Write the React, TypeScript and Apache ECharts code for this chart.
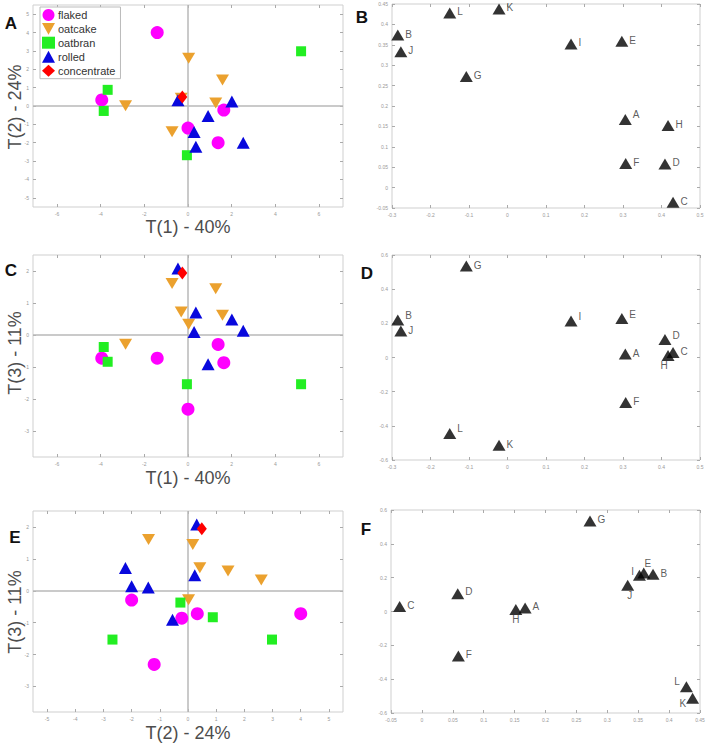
import React, { useEffect, useRef } from "react";
import * as echarts from "echarts";

// ---------- scores (T1, T2, T3) per group ----------
const flakedT1 = [-1.41, -3.95, 0.0, 1.64, 1.38];
const flakedT2 = [4.0, 0.33, -1.2, -0.22, -2.0];
const flakedT3 = [-0.72, -0.72, -2.31, -0.86, -0.29];

const oatcakeT1 = [0.03, 1.58, 1.27, -2.86, -0.73, -0.31];
const oatcakeT2 = [2.6, 1.42, 0.17, 0.02, -1.4, 0.42];
const oatcakeT3 = [0.34, 0.62, 1.45, -0.28, 1.61, 0.72];

const oatbranT1 = [5.18, -3.68, -3.86, -0.05];
const oatbranT2 = [2.98, 0.88, -0.27, -2.68];
const oatbranT3 = [-1.53, -0.83, -0.37, -1.53];

const rolledT1 = [-0.46, 2.01, 0.92, 0.28, 0.36, 2.53];
const rolledT2 = [0.31, 0.24, -0.55, -1.41, -2.22, -2.0];
const rolledT3 = [2.08, 0.49, -0.91, 0.1, 0.71, 0.14];

const concentrateT1 = [-0.26];
const concentrateT2 = [0.49];
const concentrateT3 = [1.94];

// ---------- loadings ----------
const loadingLabels = ["A", "B", "C", "D", "E", "F", "G", "H", "I", "J", "K", "L"];
const loadingP1 = [0.306, -0.285, 0.43, 0.409, 0.297, 0.307, -0.107, 0.417, 0.165, -0.277, -0.022, -0.15];
const loadingP2 = [0.167, 0.374, -0.036, 0.058, 0.359, 0.059, 0.272, 0.152, 0.352, 0.333, 0.438, 0.428];
const loadingP3 = [0.02, 0.22, 0.03, 0.105, 0.228, -0.263, 0.535, 0.012, 0.214, 0.155, -0.513, -0.445];

// ---------- tick values ----------
const ticksT1 = [-6, -4, -2, 0, 2, 4, 6];
const ticksT2 = [-5, -4, -3, -2, -1, 0, 1, 2, 3, 4, 5];
const ticksT3 = [-3, -2, -1, 0, 1, 2];
const ticksP1 = [-0.3, -0.2, -0.1, 0, 0.1, 0.2, 0.3, 0.4, 0.5];
const ticksP2x = [-0.05, 0, 0.05, 0.1, 0.15, 0.2, 0.25, 0.3, 0.35, 0.4, 0.45];
const ticksP2y = [-0.05, 0, 0.05, 0.1, 0.15, 0.2, 0.25, 0.3, 0.35, 0.4, 0.45];
const ticksP3 = [-0.6, -0.4, -0.2, 0, 0.2, 0.4, 0.6];

const FONT = "'Liberation Sans', Arial, sans-serif";

const groupStyles: any = {
  flaked: { symbol: "circle", symbolSize: 13, color: "#FF00FF" },
  oatcake: { symbol: "path://M0,0 L10,0 L5,9 Z", symbolSize: [13, 11], color: "#EBA12E" },
  oatbran: { symbol: "rect", symbolSize: 10, color: "#22EE22" },
  rolled: { symbol: "triangle", symbolSize: [13, 12], color: "#0808DD" },
  concentrate: { symbol: "diamond", symbolSize: [10, 13], color: "#FF0000" },
};

const groupData: any = {
  flaked: [flakedT1, flakedT2, flakedT3],
  oatcake: [oatcakeT1, oatcakeT2, oatcakeT3],
  oatbran: [oatbranT1, oatbranT2, oatbranT3],
  rolled: [rolledT1, rolledT2, rolledT3],
  concentrate: [concentrateT1, concentrateT2, concentrateT3],
};
const groupNames = ["flaked", "oatcake", "oatbran", "rolled", "concentrate"];

const loadingArrays = [loadingP1, loadingP2, loadingP3];

export default function App() {
  const ref = useRef<HTMLDivElement>(null);
  useEffect(() => {
    if (!ref.current) return;
    const chart = echarts.init(ref.current, undefined, { renderer: "svg" });

    const grids = [
      { left: 33, top: 5, width: 310, height: 202 }, // A
      { left: 392, top: 4, width: 308, height: 204 }, // B
      { left: 33, top: 255, width: 310, height: 202 }, // C
      { left: 392, top: 255, width: 308, height: 205 }, // D
      { left: 33, top: 511, width: 310, height: 201 }, // E
      { left: 391, top: 510, width: 309, height: 203 }, // F
    ].map((g) => ({ ...g, show: true, borderColor: "#cfcfcf", borderWidth: 1, backgroundColor: "#fff" }));

    const ranges = [
      { x: [-7.1, 7.1, ticksT1], y: [-5.5, 5.5, ticksT2] },
      { x: [-0.3, 0.5, ticksP1], y: [-0.05, 0.45, ticksP2y] },
      { x: [-7.1, 7.1, ticksT1], y: [-3.8, 2.5, ticksT3] },
      { x: [-0.3, 0.5, ticksP1], y: [-0.6, 0.6, ticksP3] },
      { x: [-5.5, 5.5, ticksT2], y: [-3.8, 2.5, ticksT3] },
      { x: [-0.05, 0.45, ticksP2x], y: [-0.6, 0.6, ticksP3] },
    ];

    const mkAxis = (gi: number, r: any, position: string, withLabels: boolean) => ({
      type: "value",
      gridIndex: gi,
      min: r[0],
      max: r[1],
      position,
      axisLine: { show: false, onZero: false },
      splitLine: { show: false },
      axisTick: { show: true, inside: true, length: 3, lineStyle: { color: "#aaa", width: 1 }, customValues: r[2] },
      axisLabel: {
        show: withLabels,
        fontSize: 5,
        color: "#999",
        margin: 4,
        fontFamily: FONT,
        customValues: r[2],
      },
    });

    const xAxis: any[] = [];
    const yAxis: any[] = [];
    ranges.forEach((r, gi) => {
      xAxis.push(mkAxis(gi, r.x, "bottom", true));
      yAxis.push(mkAxis(gi, r.y, "left", true));
    });
    ranges.forEach((r, gi) => {
      xAxis.push(mkAxis(gi, r.x, "top", false));
      yAxis.push(mkAxis(gi, r.y, "right", false));
    });

    const series: any[] = [];
    // score panels: A (T1,T2), C (T1,T3), E (T2,T3)
    const scorePanels = [
      { gi: 0, xi: 0, yi: 1 },
      { gi: 2, xi: 0, yi: 2 },
      { gi: 4, xi: 1, yi: 2 },
    ];
    scorePanels.forEach((p) => {
      groupNames.forEach((name, k) => {
        const st = groupStyles[name];
        const arr = groupData[name];
        const data = arr[p.xi].map((v: number, i: number) => [v, arr[p.yi][i]]);
        const s: any = {
          type: "scatter",
          name,
          xAxisIndex: p.gi,
          yAxisIndex: p.gi,
          symbol: st.symbol,
          symbolSize: st.symbolSize,
          itemStyle: { color: st.color, opacity: 1 },
          data,
          z: 3 + k,
        };
        if (k === 0) {
          s.markLine = {
            silent: true,
            symbol: "none",
            animation: false,
            label: { show: false },
            lineStyle: { color: "#b8b8b8", width: 1.5, type: "solid" },
            data: [{ xAxis: 0 }, { yAxis: 0 }],
            z: 1,
          };
        }
        series.push(s);
      });
    });

    // loading panels: B (P1,P2), D (P1,P3), F (P2,P3)
    const labelPos: any[] = [
      { A: { position: "right", offset: [0, -5] } },
      {
        B: { position: "right", offset: [0, -4] },
        D: { position: "right", offset: [0, -4] },
        E: { position: "right", offset: [0, -4] },
        I: { position: "right", offset: [0, -4] },
        L: { position: "right", offset: [0, -5] },
        H: { position: "bottom", offset: [-4, -1] },
      },
      {
        A: { position: "right", offset: [0, -2] },
        D: { position: "right", offset: [0, -2] },
        H: { position: "bottom", offset: [0, -1] },
        I: { position: "left", offset: [2, -4] },
        E: { position: "top", offset: [4, 2] },
        J: { position: "bottom", offset: [2, -1] },
        L: { position: "left", offset: [1, -5] },
        K: { position: "left", offset: [1, 5] },
      },
    ];
    const loadPanels = [
      { gi: 1, xi: 0, yi: 1 },
      { gi: 3, xi: 0, yi: 2 },
      { gi: 5, xi: 1, yi: 2 },
    ];
    loadPanels.forEach((p, pi) => {
      const data = loadingLabels.map((lab, i) => {
        const item: any = { name: lab, value: [loadingArrays[p.xi][i], loadingArrays[p.yi][i]] };
        const lp = labelPos[pi][lab];
        if (lp) item.label = lp;
        return item;
      });
      series.push({
        type: "scatter",
        name: "loadings" + pi,
        xAxisIndex: p.gi,
        yAxisIndex: p.gi,
        symbol: "triangle",
        symbolSize: [13, 11],
        itemStyle: { color: "#000" },
        label: {
          show: true,
          formatter: "{b}",
          position: "right",
          offset: [0, -1],
          distance: 1,
          fontSize: 10,
          color: "#333",
          fontFamily: FONT,
        },
        data,
      });
    });

    const letter = (t: string, x: number, y: number) => ({
      type: "text",
      x,
      y,
      style: {
        text: t,
        fontSize: 17,
        fontWeight: "bold",
        fontFamily: FONT,
        fill: "#111",
        align: "center",
        verticalAlign: "middle",
      },
      z: 10,
    });
    const xTitle = (t: string, x: number, y: number) => ({
      type: "text",
      x,
      y,
      style: { text: t, fontSize: 18, fontFamily: FONT, fill: "#4d4d4d", align: "center", verticalAlign: "middle" },
      z: 10,
    });
    const yTitle = (t: string, x: number, y: number) => ({
      type: "text",
      x,
      y,
      rotation: Math.PI / 2,
      style: { text: t, fontSize: 18, fontFamily: FONT, fill: "#4d4d4d", align: "center", verticalAlign: "middle" },
      z: 10,
    });

    chart.setOption({
      animation: false,
      backgroundColor: "#fff",
      grid: grids,
      xAxis,
      yAxis,
      legend: {
        left: 40,
        top: 7,
        orient: "vertical",
        itemWidth: 13,
        itemHeight: 12,
        itemGap: 2,
        padding: [2, 5, 2, 2],
        borderColor: "#bbb",
        borderWidth: 1,
        borderRadius: 0,
        backgroundColor: "#fff",
        data: groupNames,
        textStyle: { fontSize: 11, color: "#333", fontFamily: FONT, padding: [0, 0, 0, -2] },
        selectedMode: false,
      },
      series,
      graphic: [
        letter("A", 11, 23),
        letter("B", 362, 17),
        letter("C", 11, 270),
        letter("D", 367, 273),
        letter("E", 15, 537),
        letter("F", 366, 529),
        xTitle("T(1) - 40%", 188, 227),
        xTitle("T(1) - 40%", 188, 478),
        xTitle("T(2) - 24%", 188, 733),
        yTitle("T(2) - 24%", 15, 107),
        yTitle("T(3) - 11%", 15, 353),
        yTitle("T(3) - 11%", 15, 612),
      ],
    });
    return () => chart.dispose();
  }, []);
  return (
    <div
      ref={ref}
      style={{ position: "absolute", left: 0, top: 0, width: 708, height: 743, background: "#fff" }}
    />
  );
}
